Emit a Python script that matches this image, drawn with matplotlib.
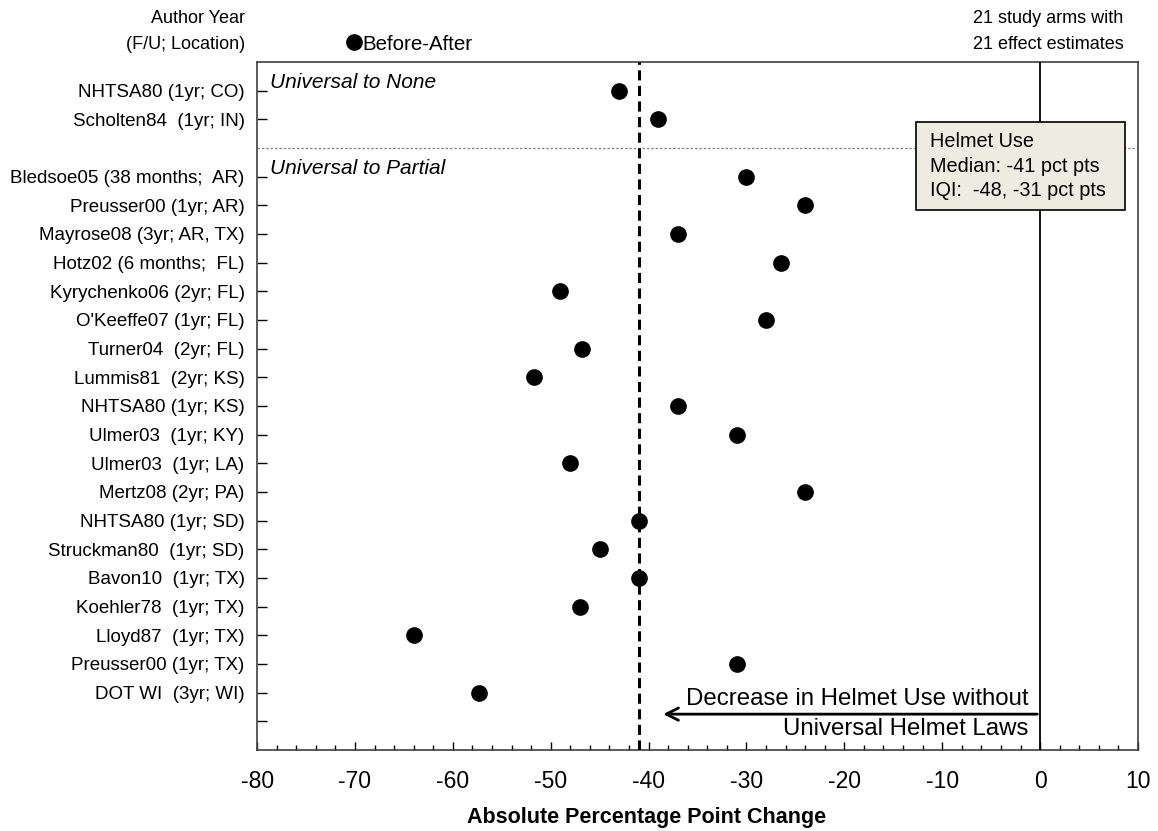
import matplotlib
matplotlib.use("Agg")
import matplotlib.pyplot as plt
from matplotlib.ticker import MultipleLocator
from matplotlib.lines import Line2D
from matplotlib.patches import Rectangle

plt.rcParams['font.family'] = ['Liberation Sans', 'DejaVu Sans']
plt.rcParams['axes.unicode_minus'] = False

# studies (row order top to bottom); None = blank separator row
labels = ['NHTSA80 (1yr; CO)', 'Scholten84  (1yr; IN)', None,
          'Bledsoe05 (38 months;  AR)', 'Preusser00 (1yr; AR)', 'Mayrose08 (3yr; AR, TX)',
          'Hotz02 (6 months;  FL)', 'Kyrychenko06 (2yr; FL)', "O'Keeffe07 (1yr; FL)",
          'Turner04  (2yr; FL)', 'Lummis81  (2yr; KS)', 'NHTSA80 (1yr; KS)',
          'Ulmer03  (1yr; KY)', 'Ulmer03  (1yr; LA)', 'Mertz08 (2yr; PA)',
          'NHTSA80 (1yr; SD)', 'Struckman80  (1yr; SD)', 'Bavon10  (1yr; TX)',
          'Koehler78  (1yr; TX)', 'Lloyd87  (1yr; TX)', 'Preusser00 (1yr; TX)',
          'DOT WI  (3yr; WI)']
changes = [-43, -39, None,
           -30, -24, -37, -26.5, -49, -28, -46.8, -51.7, -37,
           -31, -48, -24, -41, -45, -41, -47, -64, -31, -57.3]
median = -41
box_lines = ['Helmet Use', 'Median: -41 pct pts', 'IQI:  -48, -31 pct pts']

fig = plt.figure(figsize=(11.58, 8.31), dpi=100)
ax = fig.add_axes([0.222, 0.0975, 0.7607, 0.828])

rows = [i for i, v in enumerate(changes) if v is not None]
vals = [changes[i] for i in rows]
ax.plot(vals, rows, 'o', color='black', markersize=11, linestyle='none', zorder=5)

ax.set_xlim(-80, 10)
ax.set_ylim(23, -1)

ax.axvline(0, color='black', lw=1.3, zorder=3)
ax.axvline(median, color='black', lw=2.2, dashes=(3.3, 1.8), zorder=3)
ax.axhline(2, color='gray', lw=0.9, ls=(0, (2, 1.5)), zorder=2)

ticks = rows + [22]
ax.set_yticks(ticks)
ax.set_yticklabels([labels[i] for i in rows] + [''])
ax.tick_params(axis='y', direction='in', length=7, width=1, pad=9, labelsize=13.5, left=True)
ax.xaxis.set_major_locator(MultipleLocator(10))
ax.xaxis.set_minor_locator(MultipleLocator(2))
ax.tick_params(axis='x', which='major', direction='in', length=6, width=1, pad=14.5, labelsize=16.5)
ax.tick_params(axis='x', which='minor', direction='in', length=3.5, width=1)
for s in ax.spines.values():
    s.set_color('#404040')
    s.set_linewidth(1.2)

fig.text(0.558, 0.0096, 'Absolute Percentage Point Change', fontsize=15.5, fontweight='bold',
         ha='center', va='baseline')

ax.text(-78.7, -0.28, 'Universal to None', fontsize=15, style='italic', va='center')
ax.text(-78.7, 2.73, 'Universal to Partial', fontsize=15, style='italic', va='center')

# summary box
ax.add_patch(Rectangle((-12.7, 1.08), 21.4, 3.08, facecolor='#EEECE1', edgecolor='black',
                       lw=1.2, zorder=6))
for k, line in enumerate(box_lines):
    ax.text(-11.2, 1.78 + 0.86 * k, line, fontsize=14.3, va='center', ha='left', zorder=7)

# arrow and caption
ax.annotate('', xy=(-38.8, 21.75), xytext=(0, 21.75),
            arrowprops=dict(arrowstyle='->', color='black', lw=2, mutation_scale=22), zorder=4)
ax.text(-1.2, 21.6, 'Decrease in Helmet Use without', fontsize=17.3, ha='right', va='bottom')
ax.text(-1.2, 21.9, 'Universal Helmet Laws', fontsize=17.3, ha='right', va='top')

# legend
h = Line2D([], [], marker='o', color='black', markersize=11, linestyle='none')
ax.legend([h], ['Before-After'], loc='center', bbox_to_anchor=(0.174, 1.026), frameon=False,
          fontsize=14.8, handlelength=0.6, handletextpad=0.1, borderpad=0, borderaxespad=0)

fig.text(0.2116, 0.978, 'Author Year', fontsize=13, ha='right', va='center')
fig.text(0.2116, 0.947, '(F/U; Location)', fontsize=13, ha='right', va='center')
fig.text(0.970, 0.978, '21 study arms with', fontsize=13, ha='right', va='center')
fig.text(0.970, 0.947, '21 effect estimates', fontsize=13, ha='right', va='center')

fig.savefig('out.png', dpi=100)
